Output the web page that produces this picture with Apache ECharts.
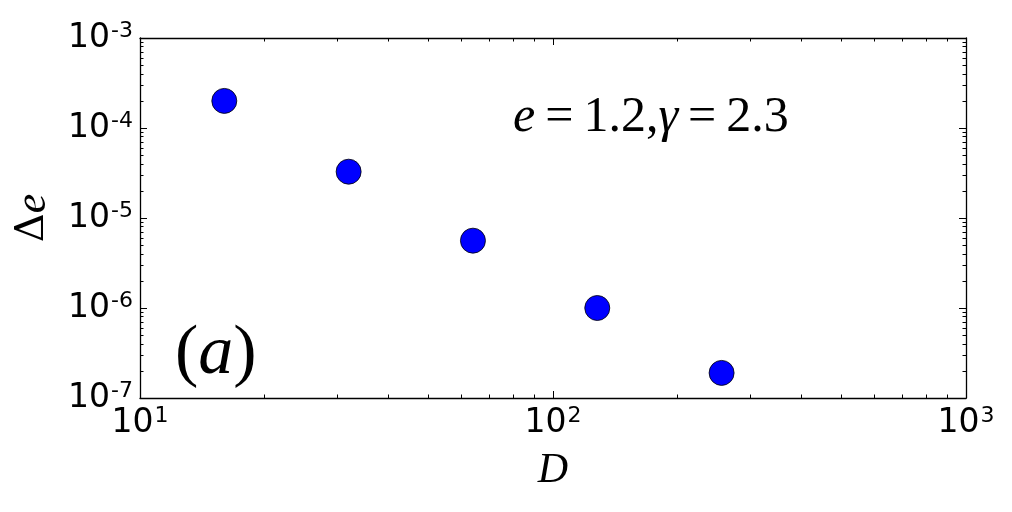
<!DOCTYPE html>
<html>
<head>
<meta charset="utf-8">
<script src="https://cdn.jsdelivr.net/npm/echarts@6/dist/echarts.min.js"></script>
<style>html,body{margin:0;padding:0;background:#fff;}#c{width:1012px;height:512px;}</style>
</head>
<body>
<div id="c"></div>
<script>
// ---- data ----
const D_values = [16, 32, 64, 128, 256];
const deltaE = [2.0e-4, 3.27e-5, 5.6e-6, 1.0e-6, 1.9e-7];
const xMajorTicks = [10, 100, 1000];
const yMajorTicks = [1e-7, 1e-6, 1e-5, 1e-4, 1e-3];
const xMinorTicks = [20,30,40,50,60,70,80,90,200,300,400,500,600,700,800,900];
const yMinorTicks = [];
[-7,-6,-5,-4].forEach(function(e){ for (let k=2;k<=9;k++) yMinorTicks.push(k*Math.pow(10,e)); });

const chart = echarts.init(document.getElementById('c'), null, {renderer:'canvas'});
const lineStyle = {color:'#000', width:1.3};
function powLabel(v){
  const e = Math.round(Math.log10(v));
  return '{b|10}{s|' + e + '}';
}
const labelRich = {
  b:{fontFamily:'DejaVu Sans', fontSize:33, color:'#000', lineHeight:36},
  s:{fontFamily:'DejaVu Sans', fontSize:22, color:'#000', verticalAlign:'top', lineHeight:22, padding:[0,0,0,1]}
};
const gridRect = {left:140, top:38, right:46, bottom:114, containLabel:false, outerBoundsMode:'none'};
function axisBase(type, pos, grid, major, showLine){
  return {
    type:'log', logBase:10, gridIndex:grid, position:pos,
    min: type==='x'?10:1e-7, max: type==='x'?1000:1e-3,
    axisLine:{show:showLine, lineStyle:lineStyle},
    splitLine:{show:false},
    axisTick:{show:true, inside:true, length: major?7:3.5, lineStyle:{color:'#000', width:1},
      customValues: major ? (type==='x'?xMajorTicks:yMajorTicks) : (type==='x'?xMinorTicks:yMinorTicks)},
    axisLabel:{show:false}
  };
}
const xMain = axisBase('x','bottom',0,true,true);
xMain.axisLabel = {show:true, margin:7, formatter:powLabel, rich:labelRich, customValues:xMajorTicks};
xMain.name = '{i|D}';
xMain.nameLocation = 'middle';
xMain.nameGap = 52;
xMain.nameTextStyle = {rich:{i:{fontFamily:'Liberation Serif', fontStyle:'italic', fontSize:42, color:'#000'}}};
const yMain = axisBase('y','left',0,true,true);
yMain.axisLabel = {show:true, margin:7, formatter:powLabel, rich:labelRich, customValues:yMajorTicks};
yMain.name = '{d|Δ}{i|e}';
yMain.nameLocation = 'middle';
yMain.nameGap = 85;
yMain.nameRotate = 90;
yMain.nameTextStyle = {rich:{
  d:{fontFamily:'DejaVu Serif', fontSize:40, color:'#000'},
  i:{fontFamily:'Liberation Serif', fontStyle:'italic', fontSize:44, color:'#000'}
}};

const option = {
  animation:false,
  backgroundColor:'#fff',
  grid:[Object.assign({}, gridRect), Object.assign({}, gridRect)],
  xAxis:[
    xMain,
    axisBase('x','top',0,true,true),
    axisBase('x','bottom',1,false,false),
    axisBase('x','top',1,false,false)
  ],
  yAxis:[
    yMain,
    axisBase('y','right',0,true,true),
    axisBase('y','left',1,false,false),
    axisBase('y','right',1,false,false)
  ],
  series:[{
    type:'scatter', xAxisIndex:0, yAxisIndex:0,
    data: D_values.map(function(d,i){return [d, deltaE[i]];}),
    symbol:'circle', symbolSize:25,
    itemStyle:{color:'#0000ff', borderColor:'#000', borderWidth:0.8, opacity:1}
  }],
  graphic:[
    {type:'text', x:513, y:118, style:{
      text:'{i|e}{o|=}{r|1.2,}{i|γ}{o|=}{r|2.3}',
      verticalAlign:'middle', align:'left',
      rich:{
        i:{fontFamily:'Liberation Serif', fontStyle:'italic', fontSize:50, fill:'#000'},
        o:{fontFamily:'Liberation Serif', fontSize:50, fill:'#000', padding:[0,10,0,10]},
        r:{fontFamily:'Liberation Serif', fontSize:50, fill:'#000'}
      }
    }},
    {type:'text', x:175, y:355, style:{
      text:'{p|(}{i|a}{p|)}',
      verticalAlign:'middle', align:'left',
      rich:{
        p:{fontFamily:'Liberation Serif', fontSize:70, fill:'#000'},
        i:{fontFamily:'Liberation Serif', fontStyle:'italic', fontSize:70, fill:'#000'}
      }
    }}
  ]
};
chart.setOption(option);
</script>
</body>
</html>
